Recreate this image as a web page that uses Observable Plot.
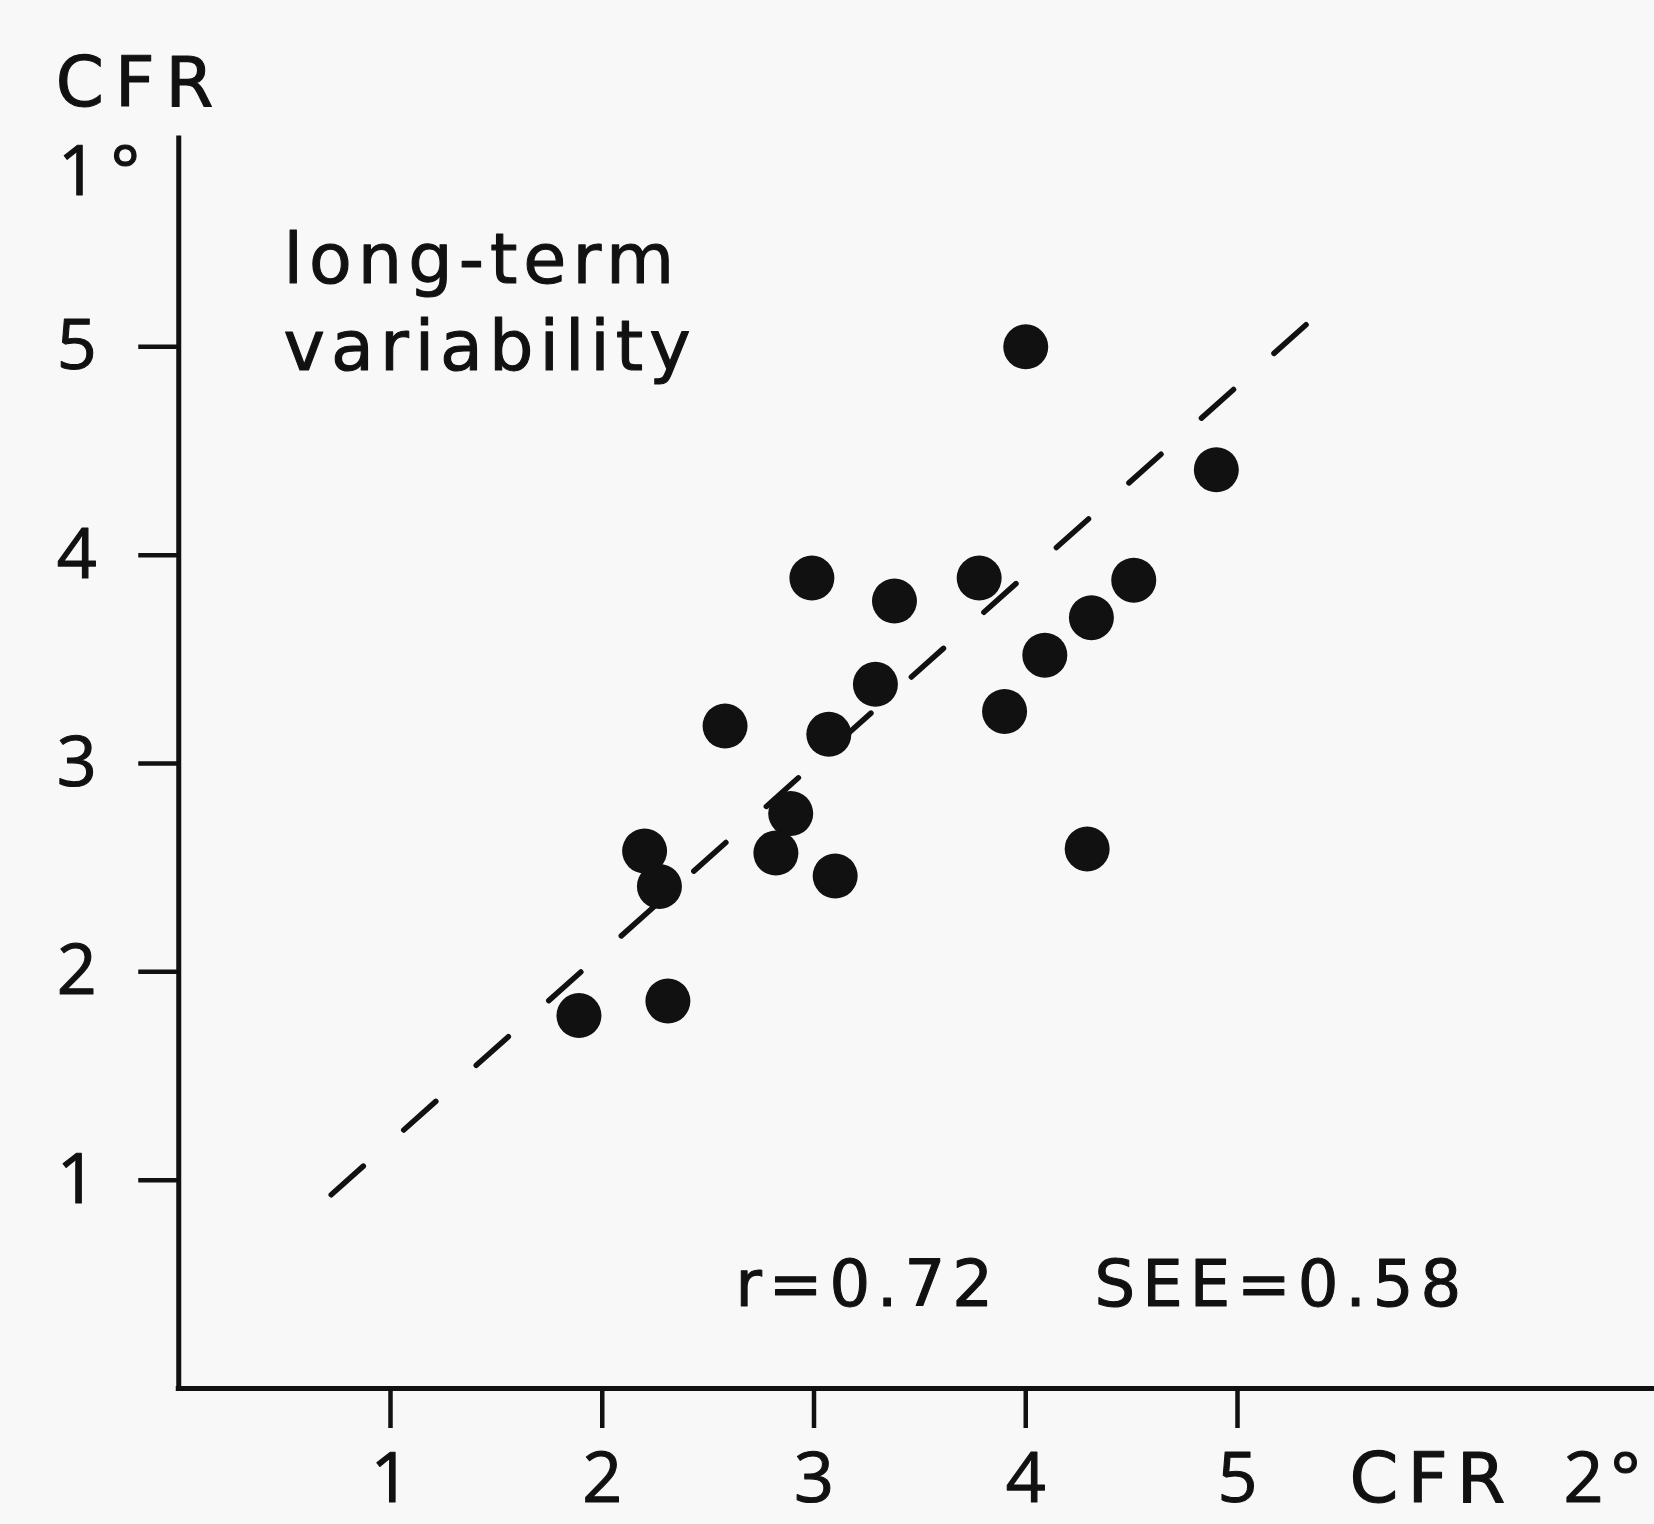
<!DOCTYPE html>
<html>
<head>
<meta charset="utf-8">
<script src="https://cdn.jsdelivr.net/npm/d3@7"></script>
<script src="https://cdn.jsdelivr.net/npm/@observablehq/plot@0.6"></script>
<style>
  html, body { margin: 0; padding: 0; background: #f8f8f8; overflow: hidden; }
  #chart svg text { stroke: #111; stroke-width: 1.1px; stroke-linejoin: round; }
</style>
</head>
<body>
<div id="chart"></div>
<script>
// Coronary flow reserve: second measurement (x) against first measurement (y)
const cfr2 = [4.00, 4.90, 2.99, 3.38, 3.78, 4.51, 4.31, 4.09, 3.29, 3.90,
              2.58, 3.07, 2.89, 2.82, 3.10, 4.29, 2.20, 2.27, 1.89, 2.31];
const cfr1 = [5.00, 4.41, 3.89, 3.78, 3.89, 3.88, 3.70, 3.52, 3.38, 3.25,
              3.18, 3.14, 2.76, 2.57, 2.46, 2.59, 2.58, 2.41, 1.79, 1.86];

// Ends of the dashed regression line
const fitX = [0.72, 5.325];
const fitY = [0.93, 5.107];

// Axis ticks
const xTicks = [1, 2, 3, 4, 5];
const yTicks = [1, 2, 3, 4, 5];

// Statistics printed in the panel
const rValue = "0.72";
const seeValue = "0.58";

const points = cfr2.map((x, i) => ({x, y: cfr1[i]}));
const fit = fitX.map((x, i) => ({x, y: fitY[i]}));

const ink = "#111";
const sans = "DejaVu Sans, sans-serif";
const digits = "Open Sans, sans-serif";

const chart = Plot.plot({
  width: 1654,
  height: 1524,
  marginLeft: 178.25,
  marginRight: 0,
  marginTop: 138,
  marginBottom: 136,
  style: {background: "#f8f8f8", color: ink, fontFamily: digits, overflow: "visible"},
  x: {domain: [0, 1475.75 / 211.75]},
  y: {domain: [0, 6]},
  marks: [
    // axis lines
    Plot.ruleX([0], {stroke: ink, strokeWidth: 5, strokeLinecap: "square"}),
    Plot.ruleY([0], {stroke: ink, strokeWidth: 5, strokeLinecap: "square"}),
    Plot.axisX({
      ticks: xTicks, tickFormat: d => String(d), tickSize: 40, tickPadding: 24,
      fontSize: 70, fontFamily: digits, strokeWidth: 4.5, label: null
    }),
    Plot.axisY({
      ticks: yTicks, tickFormat: d => String(d), tickSize: 40, tickPadding: 42,
      fontSize: 70, fontFamily: digits, strokeWidth: 4.5, label: null
    }),
    // regression line
    Plot.line(fit, {
      x: "x", y: "y", stroke: ink, strokeWidth: 5.5,
      strokeDasharray: "43,54.2", strokeLinecap: "round"
    }),
    // observations
    Plot.dot(points, {x: "x", y: "y", r: 22.5, fill: ink, stroke: "none"}),
    // axis titles
    Plot.text(["CFR"], {
      x: -0.581, y: 6.158, text: d => d, textAnchor: "start", lineAnchor: "bottom",
      fontSize: 69, fontFamily: sans, fill: ink, ariaDescription: "y title"
    }),
    Plot.text(["1°"], {
      x: -0.57, y: 5.727, text: d => d, textAnchor: "start", lineAnchor: "bottom",
      fontSize: 69, fontFamily: digits, fill: ink, ariaDescription: "y title sub"
    }),
    Plot.text(["CFR"], {
      x: 5.529, y: -0.547, text: d => d, textAnchor: "start", lineAnchor: "bottom",
      fontSize: 70, fontFamily: sans, fill: ink, ariaDescription: "x title"
    }),
    Plot.text(["2°"], {
      x: 6.54, y: -0.547, text: d => d, textAnchor: "start", lineAnchor: "bottom",
      fontSize: 70, fontFamily: digits, fill: ink, ariaDescription: "x title sub"
    }),
    // panel annotations
    Plot.text(["long-term\nvariability"], {
      x: 0.495, y: 4.891, text: d => d, textAnchor: "start", lineAnchor: "bottom",
      lineHeight: 1.23, fontSize: 70, fontFamily: sans, fill: ink, ariaDescription: "panel title"
    }),
    Plot.text([`r=${rValue}`], {
      x: 2.629, y: 0.398, text: d => d, textAnchor: "start", lineAnchor: "bottom",
      fontSize: 64, fontFamily: sans, fill: ink, ariaDescription: "stat r"
    }),
    Plot.text([`SEE=${seeValue}`], {
      x: 4.325, y: 0.398, text: d => d, textAnchor: "start", lineAnchor: "bottom",
      fontSize: 64, fontFamily: sans, fill: ink, ariaDescription: "stat see"
    })
  ]
});

document.getElementById("chart").append(chart);

// typewriter-like tracking on the labels
const svg = d3.select(chart);
const spacing = {
  "y title": 11, "x title": 9, "panel title": 6, "stat r": 7, "stat see": 7,
  "y title sub": 13, "x title sub": 7
};
for (const [label, ls] of Object.entries(spacing)) {
  svg.selectAll(`g[aria-description="${label}"] text, g[aria-description="${label}"] tspan`)
    .attr("letter-spacing", ls);
}
</script>
</body>
</html>
